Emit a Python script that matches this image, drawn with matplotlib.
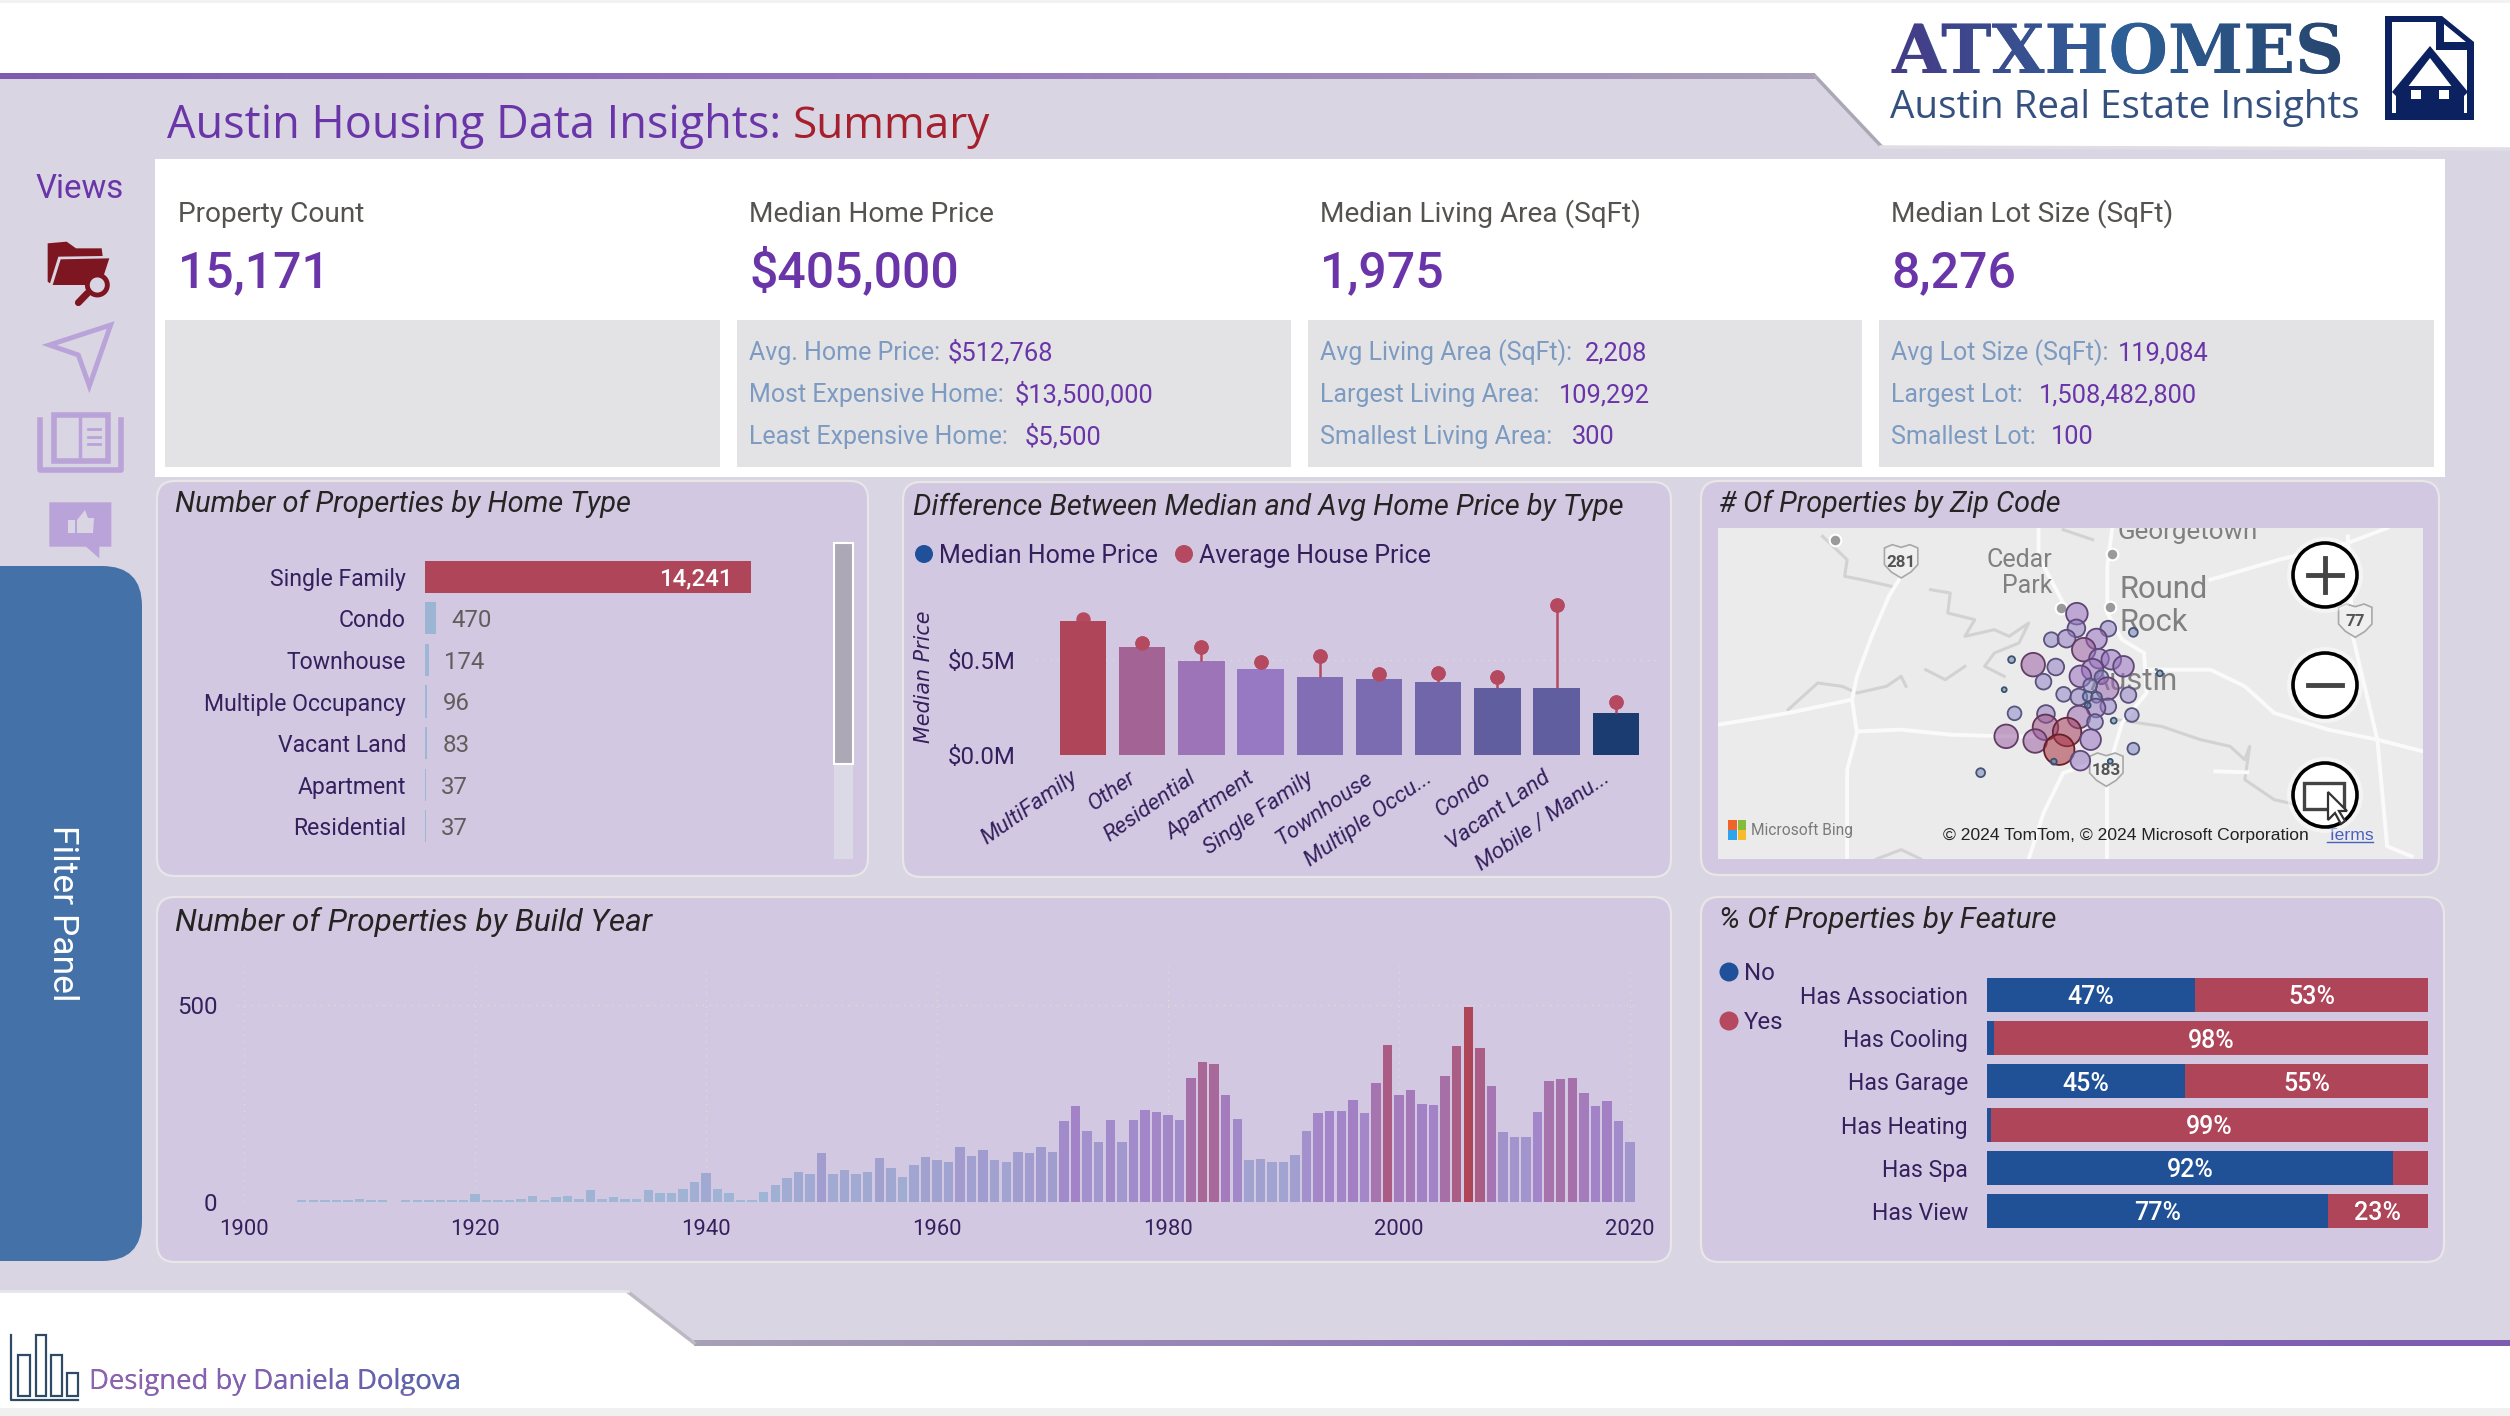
import numpy as np
import matplotlib
matplotlib.use("Agg")
import matplotlib.pyplot as plt
from matplotlib.colors import LinearSegmentedColormap, Normalize
from matplotlib.font_manager import FontProperties
from matplotlib.patches import Circle, FancyBboxPatch, PathPatch, Polygon, Rectangle
from matplotlib.textpath import TextPath
from matplotlib.transforms import Affine2D, ScaledTranslation

W, H = 2510, 1416

# colours
BG = "#D9D5E3"
PANEL = "#D2C8E1"
PURPLE = "#6A35A8"
RED = "#AE4559"
BLUE = "#20508F"
AXIS_TXT = "#35205E"
GRID = "#DFDBD6"

# kpi cards
kpi_titles = ["Property Count", "Median Home Price", "Median Living Area (SqFt)", "Median Lot Size (SqFt)"]
kpi_values = ["15,171", "$405,000", "1,975", "8,276"]
kpi_labels = [
    ["Avg. Home Price:", "Most Expensive Home:", "Least Expensive Home:"],
    ["Avg Living Area (SqFt):", "Largest Living Area:", "Smallest Living Area:"],
    ["Avg Lot Size (SqFt):", "Largest Lot:", "Smallest Lot:"],
]
kpi_numbers = [
    ["$512,768", "$13,500,000", "$5,500"],
    ["2,208", "109,292", "300"],
    ["119,084", "1,508,482,800", "100"],
]

# properties by home type
home_types = ["Single Family", "Condo", "Townhouse", "Multiple Occupancy", "Vacant Land", "Apartment", "Residential"]
home_counts = [14241, 470, 174, 96, 83, 37, 37]

# median vs average price
price_types = ["MultiFamily", "Other", "Residential", "Apartment", "Single Family", "Townhouse",
               "Multiple Occu...", "Condo", "Vacant Land", "Mobile / Manu..."]
median_price = [0.703, 0.568, 0.493, 0.453, 0.412, 0.402, 0.382, 0.351, 0.351, 0.219]
avg_price = [0.715, 0.591, 0.570, 0.491, 0.521, 0.428, 0.433, 0.409, 0.791, 0.277]

# build year
years = list(range(1905, 1913)) + list(range(1914, 2021))
year_counts = [5, 4, 4, 4, 5, 8, 5, 5,
               5, 5, 4, 5, 4, 5, 20, 5, 5, 5, 7, 15, 5, 12, 14, 8, 30, 7, 13, 8, 7, 31,
               23, 24, 32, 51, 75, 32, 22, 4, 4, 25, 43, 62, 77, 70, 125, 72, 81, 70, 77, 113,
               87, 64, 94, 114, 107, 101, 139, 116, 133, 108, 103, 128, 124, 141, 126, 205, 244, 180, 152, 209,
               152, 208, 235, 228, 221, 208, 315, 357, 352, 272, 211, 107, 109, 103, 101, 120, 181, 226, 232, 231,
               259, 226, 304, 399, 271, 285, 250, 248, 321, 398, 495, 393, 295, 177, 166, 166, 230, 307, 313, 315,
               278, 243, 257, 205, 153]

# features
features = ["Has Association", "Has Cooling", "Has Garage", "Has Heating", "Has Spa", "Has View"]
feat_no = [47.2, 1.7, 45, 0.8, 92, 77.3]
feat_yes = [52.8, 98.3, 55, 99.2, 8, 22.7]
no_labels = ["47%", "", "45%", "", "92%", "77%"]
yes_labels = ["53%", "98%", "55%", "99%", "", "23%"]

# map bubbles
bub_x = [788, 787, 852, 903, 736, 767, 828, 802, 833, 858, 883, 699, 745, 655, 820, 795, 838, 720, 957, 640,
         850, 815, 893, 761, 792, 810, 828, 852, 827, 810, 661, 725, 792, 900, 863, 825, 724, 768, 644, 703,
         816, 752, 903, 795, 741, 856, 592]
bub_y = [402, 446, 447, 458, 480, 477, 478, 510, 537, 540, 560, 555, 562, 540, 570, 590, 593, 606, 581, 630,
         627, 617, 646, 644, 652, 650, 653, 680, 685, 677, 701, 703, 712, 706, 723, 727, 743, 757, 770, 784,
         780, 810, 807, 843, 846, 845, 879]
bub_d = [44, 36, 32, 18, 30, 36, 42, 48, 40, 40, 42, 48, 34, 14, 44, 44, 28, 32, 12, 10,
         46, 28, 32, 30, 34, 20, 22, 32, 38, 12, 28, 36, 46, 28, 12, 32, 52, 58, 48, 48,
         42, 62, 24, 40, 12, 10, 18]

# map background lines
roads = [
    [(430, 290), (405, 350), (370, 470), (340, 590), (330, 660), (340, 760), (320, 870), (320, 1138)],
    [(57, 735), (120, 720), (200, 700), (330, 660)],
    [(345, 755), (430, 750), (530, 765), (640, 770), (700, 770)],
    [(860, 145), (850, 260), (850, 400), (880, 480), (925, 520), (930, 640), (880, 730), (860, 830), (760, 880), (720, 1000), (690, 1138)],
    [(850, 900), (850, 1138)],
    [(935, 570), (1060, 570), (1130, 620), (1190, 700), (1300, 750), (1400, 780), (1493, 815)],
    [(1060, 300), (1200, 240), (1340, 190), (1420, 145)],
    [(1340, 170), (1350, 470), (1400, 780), (1420, 1100), (1470, 1130)],
    [(710, 145), (710, 230), (760, 370)],
    [(1070, 875), (1135, 878)],
]
rivers = [
    [(270, 170), (320, 240), (315, 290), (350, 300), (410, 320)],
    [(490, 330), (530, 340), (525, 400), (580, 420), (560, 470), (620, 450), (650, 470), (690, 430), (670, 490), (620, 520), (600, 560), (640, 590)],
    [(200, 690), (260, 610), (310, 620), (340, 640), (400, 620), (430, 590), (440, 620)],
    [(870, 720), (960, 740), (1040, 780), (1100, 800), (1130, 840), (1140, 800), (1130, 900), (1190, 960), (1250, 980)],
    [(760, 150), (820, 180)],
    [(480, 570), (520, 600), (560, 560)],
    [(380, 1138), (430, 1110), (470, 1138)],
]
shield_x = [430, 1355, 848]
shield_y = [245, 423, 870]
shield_txt = ["281", "77", "183"]
town_x = [295, 859, 755, 855]
town_y = [180, 222, 386, 381]


def fs(px):
    # font size in pt for an em size given in image pixels (dpi 100)
    return px * 0.72


def px_axes(x0, y0, x1, y1, z=2):
    a = fig.add_axes([x0 / W, 1 - y1 / H, (x1 - x0) / W, (y1 - y0) / H], zorder=z)
    a.patch.set_alpha(0)
    return a


def txt(a, x, y, s, px, color, **kw):
    kw.setdefault("family", "Roboto")
    kw.setdefault("va", "baseline")
    return a.text(x, y, s, fontsize=fs(px), color=color, **kw)


def gradient_over(x, y, s, px, prop, colors):
    # paints a colour ramp over real text, clipped to the same glyphs
    path = TextPath((0, 0), s, size=px, prop=prop)
    ext = path.get_extents()
    tr = Affine2D().scale(1, -1).translate(x, y) + bg.transData
    cm = LinearSegmentedColormap.from_list("t", colors)
    im = bg.imshow(np.linspace(0, 1, 256).reshape(1, -1), cmap=cm, aspect="auto", zorder=4,
                   extent=(x + ext.x0, x + ext.x1, y + 4, y - px))
    im.set_clip_path(PathPatch(path, transform=tr))


def panel(x0, y0, x1, y1):
    bg.add_patch(FancyBboxPatch((x0 + 18, y0 + 18), x1 - x0 - 36, y1 - y0 - 36,
                                boxstyle="round,pad=18,rounding_size=18", fc=PANEL, ec="#E8E6E6", lw=1.6))


def clean(a):
    for s in a.spines.values():
        s.set_visible(False)


plt.rcParams["font.family"] = ["Roboto", "DejaVu Sans"]
fig = plt.figure(figsize=(W / 100, H / 100), dpi=100, facecolor=BG)

bg = fig.add_axes([0, 0, 1, 1], zorder=0)
bg.set_axis_off()
bg.set_xlim(0, W)
bg.set_ylim(H, 0)

# gradient lines of the header and footer
head_cm = LinearSegmentedColormap.from_list("h", ["#7D5BAF", "#9778BD", "#A9A0B8"])
foot_cm = LinearSegmentedColormap.from_list("f", ["#A8A0B5", "#8A6FB5", "#7D5BAF"])
grad = np.linspace(0, 1, 256).reshape(1, -1)

# header and footer shapes
bg.add_patch(Polygon([(0, 0), (W, 0), (W, 148), (1881, 146), (1815, 74), (0, 74)], fc="white", ec="none"))
bg.add_patch(Rectangle((0, 0), W, 3, fc="#F2F2F2", ec="none"))
bg.imshow(grad, extent=(0, 1815, 79, 73), cmap=head_cm, aspect="auto", zorder=3)
bg.plot([1815, 1881], [76, 146], color="#ABA8B6", lw=2.5, zorder=3)
bg.plot([1881, W], [147, 149], color="#E0DEE4", lw=2.5, zorder=3)
bg.add_patch(Polygon([(0, 1292), (628, 1292), (694, 1343), (W, 1343), (W, H), (0, H)], fc="white", ec="none"))
bg.add_patch(Rectangle((0, 1408), W, 8, fc="#F0F0F0", ec="none"))
bg.imshow(grad, extent=(694, W, 1346, 1340), cmap=foot_cm, aspect="auto", zorder=3)
bg.plot([628, 694], [1292, 1343], color="#BCB9C4", lw=2.5, zorder=3)
bg.plot([0, 628], [1291, 1291], color="#E6E5EA", lw=2, zorder=3)

# page title
txt(bg, 167, 138, "Austin Housing Data Insights:", 45, PURPLE, family="Open Sans")
txt(bg, 793, 138, "Summary", 44, "#A5202C", family="Open Sans")

# logo
logo_prop = FontProperties(family="DejaVu Serif", weight="bold")
txt(bg, 1892, 73, "ATXHOMES", 68, "#34558F", family="DejaVu Serif", fontweight="bold")
gradient_over(1892, 73, "ATXHOMES", 68, logo_prop, ["#473A86", "#2E6098", "#27466F"])
txt(bg, 1890, 118, "Austin Real Estate Insights", 38.6, "#34507F", family="Open Sans")
NAVY = "#0B2160"
bg.add_patch(Polygon([(2385, 16), (2442, 16), (2474, 42), (2474, 120), (2385, 120)], fc=NAVY, ec="none"))
bg.add_patch(Polygon([(2392, 22), (2436, 22), (2436, 50), (2467, 50), (2467, 113), (2392, 113)], fc="white", ec="none"))
bg.add_patch(Polygon([(2444, 24), (2444, 42), (2466, 42)], fc="white", ec="none"))
bg.add_patch(Polygon([(2430, 46), (2468, 92), (2464, 96), (2464, 113), (2396, 113), (2396, 96), (2392, 92)], fc=NAVY, ec="none"))
bg.add_patch(Polygon([(2430, 58), (2456, 92), (2456, 105), (2404, 105), (2404, 92)], fc="white", ec="none"))
bg.add_patch(Rectangle((2404, 86), 52, 20, fc=NAVY, ec="none"))
bg.add_patch(Rectangle((2411, 90), 10, 9, fc="white", ec="none"))
bg.add_patch(Rectangle((2439, 90), 10, 9, fc="white", ec="none"))

# nav column
txt(bg, 36, 198, "Views", 33, PURPLE)
LILAC = "#B9A3D8"


def z10(pts):
    return [(x / 3, 150 + y / 3) for x, y in pts]


MAROON = "#7E1622"
bg.add_patch(Polygon(z10([(143, 280), (200, 275), (228, 295), (305, 295), (308, 318), (175, 320), (150, 400), (143, 395)]), fc=MAROON, ec="none"))
bg.add_patch(Polygon(z10([(182, 328), (328, 325), (305, 395), (255, 405), (158, 405)]), fc=MAROON, ec="none"))
bg.add_patch(Circle((292 / 3, 150 + 405 / 3), 10, fc=BG, ec=MAROON, lw=3.5, zorder=3))
bg.plot([235 / 3, 262 / 3], [150 + 458 / 3, 150 + 430 / 3], color=MAROON, lw=5, solid_capstyle="round", zorder=3)
bg.add_patch(Polygon(z10([(148, 585), (332, 525), (268, 708), (235, 615)]), fc="none", ec=LILAC, lw=3.5))
bg.add_patch(Rectangle((54, 415), 54, 46, fc="none", ec=LILAC, lw=4))
bg.plot([80, 80], [415, 461], color=LILAC, lw=2.5)
bg.plot([40, 40, 121, 121], [420, 470, 470, 420], color=LILAC, lw=4)
for yy in (429, 437, 444):
    bg.plot([88, 100], [yy, yy], color=LILAC, lw=2)
bg.add_patch(Polygon(z10([(148, 1057), (334, 1057), (334, 1190), (298, 1190), (298, 1225), (258, 1190), (148, 1190)]), fc=LILAC, ec="none"))
bg.add_patch(Rectangle((68, 520), 7, 13, fc=BG, ec="none"))
bg.add_patch(Polygon([(77, 520), (85, 510), (88, 518), (94, 518), (93, 533), (77, 533)], fc=BG, ec="none"))

# filter panel
bg.add_patch(FancyBboxPatch((-60, 606), 162, 615, boxstyle="round,pad=40,rounding_size=40", fc="#4472A8", ec="none"))
txt(bg, 62, 913, "Filter Panel", 35.5, "white", rotation=270, ha="center", va="center")

# kpi cards
bg.add_patch(Rectangle((155, 159), 2290, 318, fc="white", ec="none"))
card_x = [178, 749, 1320, 1891]
for x, t, v in zip(card_x, kpi_titles, kpi_values):
    txt(bg, x, 222, t, 28, "#55534F")
    txt(bg, x, 287, v, 50, PURPLE, fontweight="medium")
for x0, x1 in [(165, 720), (737, 1291), (1308, 1862), (1879, 2434)]:
    bg.add_patch(Rectangle((x0, 320), x1 - x0, 147, fc="#E3E3E6", ec="none"))
row_y = [360, 402, 444]
num_x = [[948, 1015, 1025], [1585, 1559, 1572], [2118, 2039, 2051]]
for i in range(3):
    for j in range(3):
        txt(bg, card_x[i + 1], row_y[j], kpi_labels[i][j], 25, "#7D9BC1")
        txt(bg, num_x[i][j], row_y[j], kpi_numbers[i][j], 25.5, PURPLE)

# panels and titles
panel(157, 481, 868, 876)
panel(903, 482, 1671, 877)
panel(1701, 481, 2439, 875)
panel(157, 897, 1671, 1262)
panel(1701, 897, 2444, 1262)
TITLE = "#252423"
txt(bg, 175, 512, "Number of Properties by Home Type", 29, TITLE, style="italic")
txt(bg, 913, 515, "Difference Between Median and Avg Home Price by Type", 29, TITLE, style="italic")
txt(bg, 1719, 512, "# Of Properties by Zip Code", 28.7, TITLE, style="italic")
txt(bg, 175, 931, "Number of Properties by Build Year", 31.5, TITLE, style="italic")
txt(bg, 1719, 928, "% Of Properties by Feature", 29.5, TITLE, style="italic")

# home type chart
home_cm = LinearSegmentedColormap.from_list("home", ["#9DB8D5", "#A382C8", RED])
ax1 = px_axes(425, 556, 751, 847)
y1 = np.arange(len(home_types))
ax1.barh(y1, home_counts, height=0.77, color=home_cm(Normalize(0, 14241)(home_counts)))
ax1.set_xlim(0, 14241)
ax1.set_ylim(6.5, -0.5)
ax1.set_yticks(y1, home_types)
ax1.tick_params(axis="y", length=0, pad=13.7, labelsize=fs(23), labelcolor=AXIS_TXT)
ax1.set_xticks([])
clean(ax1)
for i, v in enumerate(home_counts):
    if i == 0:
        ax1.annotate(f"{v:,}", (v, i), xytext=(-13, 0), textcoords="offset points", ha="right", va="center_baseline",
                     color="white", fontsize=fs(24), fontweight="medium")
    else:
        ax1.annotate(f"{v:,}", (v, i), xytext=(11, 0), textcoords="offset points", ha="left", va="center_baseline",
                     color="#605E5C", fontsize=fs(24))
bg.add_patch(Rectangle((834, 543), 19, 316, fc="#DCD9E6", ec="none"))
bg.add_patch(Rectangle((834, 543), 19, 221, fc="#ACA8B5", ec="white", lw=1.5))

# median vs average chart
price_cm = LinearSegmentedColormap.from_list("price", ["#1A3C70", "#9B7BC5", RED])
ax2 = px_axes(1036, 590, 1656, 755)
x2 = np.arange(len(price_types))
ax2.bar(x2, median_price, width=0.784, color=price_cm(Normalize(min(median_price), max(median_price))(median_price)), zorder=2)
ax2.vlines(x2, median_price, avg_price, color="#B5495F", lw=1.8, zorder=3)
ax2.scatter(x2, avg_price, s=(13 * 0.72) ** 2, color="#B5495F", zorder=1, clip_on=False)
ax2.scatter(x2[1:], avg_price[1:], s=(13 * 0.72) ** 2, color="#B5495F", zorder=4, clip_on=False)
ax2.set_xlim(-0.794, 9.68)
ax2.set_ylim(0, 0.868)
ax2.set_yticks([0, 0.5], ["$0.0M", "$0.5M"])
ax2.set_xticks(x2)
ax2.set_xticklabels(price_types, rotation=35, ha="right", rotation_mode="anchor", style="italic")
ax2.tick_params(axis="y", length=0, pad=14.5, labelsize=fs(24), labelcolor=AXIS_TXT)
ax2.tick_params(axis="x", length=0, pad=9, labelsize=fs(22.5), labelcolor=AXIS_TXT)
shift = ScaledTranslation(-10 / 72, 0, fig.dpi_scale_trans)
for lab in ax2.get_xticklabels():
    lab.set_transform(lab.get_transform() + shift)
ax2.grid(axis="y", color=GRID, lw=1, ls=(0, (1, 4)), zorder=0)
clean(ax2)
txt(bg, 924, 677, "Median Price", 20.7, AXIS_TXT, family="DejaVu Sans", style="italic", rotation=90, ha="center", va="center")
bg.add_patch(Circle((924, 554), 9, fc="#20509A", ec="none"))
txt(bg, 939, 563, "Median Home Price", 25, AXIS_TXT)
bg.add_patch(Circle((1184, 554), 9, fc="#B5495F", ec="none"))
txt(bg, 1199, 563, "Average House Price", 25, AXIS_TXT)

# map
mp = px_axes(1718, 528, 2423, 859)
mp.set_facecolor("#EBEBEB")
mp.patch.set_alpha(1)
mp.set_xlim(57, 1493)
mp.set_ylim(1138, 145)
mp.set_xticks([])
mp.set_yticks([])
clean(mp)
for r in rivers:
    rr = np.array(r)
    mp.plot(rr[:, 0], rr[:, 1], color="#D2D2D2", lw=2.2, zorder=1)
for r in roads:
    rr = np.array(r)
    mp.plot(rr[:, 0], rr[:, 1], color="#FAFAFA", lw=2.8, zorder=2)
mp.scatter(town_x, town_y, s=70, color="#9A9A9A", ec="white", lw=1.5, zorder=3)
MAPTXT = "#808080"
mp.text(870, 178, "Georgetown", fontsize=fs(26), color=MAPTXT, zorder=3, clip_on=True)
mp.text(738, 262, "Cedar", fontsize=fs(25), color=MAPTXT, ha="right", zorder=3)
mp.text(738, 340, "Park", fontsize=fs(25), color=MAPTXT, ha="right", zorder=3)
mp.text(875, 355, "Round", fontsize=fs(31), color=MAPTXT, zorder=3)
mp.text(875, 455, "Rock", fontsize=fs(31), color=MAPTXT, zorder=3)
mp.text(813, 630, "Austin", fontsize=fs(31), color=MAPTXT, zorder=3)
for sx, sy, st in zip(shield_x, shield_y, shield_txt):
    shape = [(sx - 34, sy - 40), (sx - 18, sy - 50), (sx, sy - 42), (sx + 18, sy - 50), (sx + 34, sy - 40),
             (sx + 34, sy + 10), (sx + 20, sy + 32), (sx, sy + 50), (sx - 20, sy + 32), (sx - 34, sy + 10)]
    mp.add_patch(Polygon(shape, fc="#EFEFEF", ec="#A8A8A8", lw=1.2, zorder=3))
    mp.text(sx, sy + 2, st, fontsize=fs(17), color="#555555", fontweight="bold", ha="center", va="center", zorder=4)
bub_cm = LinearSegmentedColormap.from_list("bub", ["#5B82AE", "#8F8BCB", "#9A6FBE", "#A8303F"])
bub_d = np.array(bub_d)
cols = bub_cm(Normalize(10, 62)(bub_d))
ecols = cols.copy()
ecols[:, :3] *= 0.62
cols[:, 3] = 0.55
mp.scatter(bub_x, bub_y, s=(bub_d / 2.036 * 0.72) ** 2, c=cols, edgecolors=ecols, linewidths=1.3, zorder=5)
mp.add_patch(Rectangle((77, 1022), 18, 28, fc="#F0642A", ec="none", zorder=4))
mp.add_patch(Rectangle((97, 1022), 18, 28, fc="#85BC3C", ec="none", zorder=4))
mp.add_patch(Rectangle((77, 1052), 18, 28, fc="#2FA4EA", ec="none", zorder=4))
mp.add_patch(Rectangle((97, 1052), 18, 28, fc="#F8BB2C", ec="none", zorder=4))
mp.text(125, 1052, "Microsoft Bing", fontsize=fs(15.5), color="#7A7A7A", va="center", zorder=4)
mp.text(515, 1080, "© 2024 TomTom, © 2024 Microsoft Corporation", fontsize=fs(17.5), color="#222222",
        family="Liberation Sans", zorder=4)
mp.text(1297, 1080, "Terms", fontsize=fs(17.5), color="#4A5FBF", family="Liberation Sans", zorder=4)
mp.plot([1297, 1392], [1088, 1088], color="#4A5FBF", lw=1, zorder=4)

# map buttons
ov = fig.add_axes([0, 0, 1, 1], zorder=5)
ov.set_axis_off()
ov.patch.set_alpha(0)
ov.set_xlim(0, W)
ov.set_ylim(H, 0)
for cy in (575, 685, 795):
    ov.add_patch(Circle((2325, cy), 38, fc="white", alpha=0.45, ec="none"))
    ov.add_patch(Circle((2325, cy), 32, fc="white", ec="black", lw=2.6))
ov.plot([2308, 2342], [575, 575], color="#444444", lw=3.5)
ov.plot([2325, 2325], [558, 592], color="#444444", lw=3.5)
ov.plot([2308, 2342], [685, 685], color="#444444", lw=3.5)
ov.add_patch(Rectangle((2304, 783), 40, 26, fc="none", ec="#444444", lw=2.4))
ov.add_patch(Polygon([(2328, 792), (2328, 820), (2335, 813), (2341, 824), (2345, 821), (2339, 811), (2347, 811)], fc="white", ec="#333333", lw=1.6))

# build year chart
year_cm = LinearSegmentedColormap.from_list("year", ["#9FBAD6", "#A382C8", RED])
ax4 = px_axes(237, 965, 1637, 1202)
ax4.bar(years, year_counts, width=0.82, color=year_cm(Normalize(0, 495)(year_counts)), zorder=2)
ax4.set_xlim(1900 - 7 / 11.55, 2020 + 7 / 11.55)
ax4.set_ylim(0, 603)
ax4.set_yticks([0, 500], ["0", "500"])
ax4.set_xticks([1900, 1920, 1940, 1960, 1980, 2000, 2020])
ax4.tick_params(axis="y", length=0, pad=14, labelsize=fs(24), labelcolor=AXIS_TXT)
ax4.tick_params(axis="x", length=0, pad=12, labelsize=fs(22), labelcolor=AXIS_TXT)
ax4.grid(color=GRID, lw=1, ls=(0, (1, 4)), zorder=0)
clean(ax4)

# feature chart
ax5 = px_axes(1987, 973.4, 2428, 1232.6)
y5 = np.arange(len(features))
ax5.barh(y5, feat_no, height=0.787, color="#205196")
ax5.barh(y5, feat_yes, left=feat_no, height=0.787, color=RED)
ax5.set_xlim(0, 100)
ax5.set_ylim(5.5, -0.5)
ax5.set_yticks(y5, features)
ax5.set_xticks([])
ax5.tick_params(axis="y", length=0, pad=13.7, labelsize=fs(23), labelcolor=AXIS_TXT)
clean(ax5)
for i in range(len(features)):
    ax5.text(feat_no[i] / 2, i, no_labels[i], color="white", ha="center", va="center_baseline", fontsize=fs(25), fontweight="medium")
    ax5.text(feat_no[i] + feat_yes[i] / 2, i, yes_labels[i], color="white", ha="center", va="center_baseline", fontsize=fs(25), fontweight="medium")
bg.add_patch(Circle((1729, 972), 9.5, fc="#20509A", ec="none"))
txt(bg, 1744, 980, "No", 24, AXIS_TXT)
bg.add_patch(Circle((1729, 1021), 9.5, fc="#B5495F", ec="none"))
txt(bg, 1744, 1029, "Yes", 24, AXIS_TXT)

# footer credit
FOOT = "#2E4A66"
bg.plot([11, 11, 78], [1335, 1400, 1400], color=FOOT, lw=1.6)
for bx0, bx1, by in [(18, 30, 1355), (36, 46, 1335), (51, 62, 1355), (67, 78, 1373)]:
    bg.add_patch(Rectangle((bx0, by), bx1 - bx0, 1396 - by, fc="none", ec=FOOT, lw=1.6))
credit_prop = FontProperties(family="Open Sans")
txt(bg, 89, 1389, "Designed by Daniela Dolgova", 27.5, "#7F66B2", family="Open Sans")
gradient_over(89, 1389, "Designed by Daniela Dolgova", 27.5, credit_prop, ["#9063B0", "#8060AF", "#4F67A8"])

bg.set_xlim(0, W)
bg.set_ylim(H, 0)

fig.savefig("out.png", dpi=100, facecolor=BG)
